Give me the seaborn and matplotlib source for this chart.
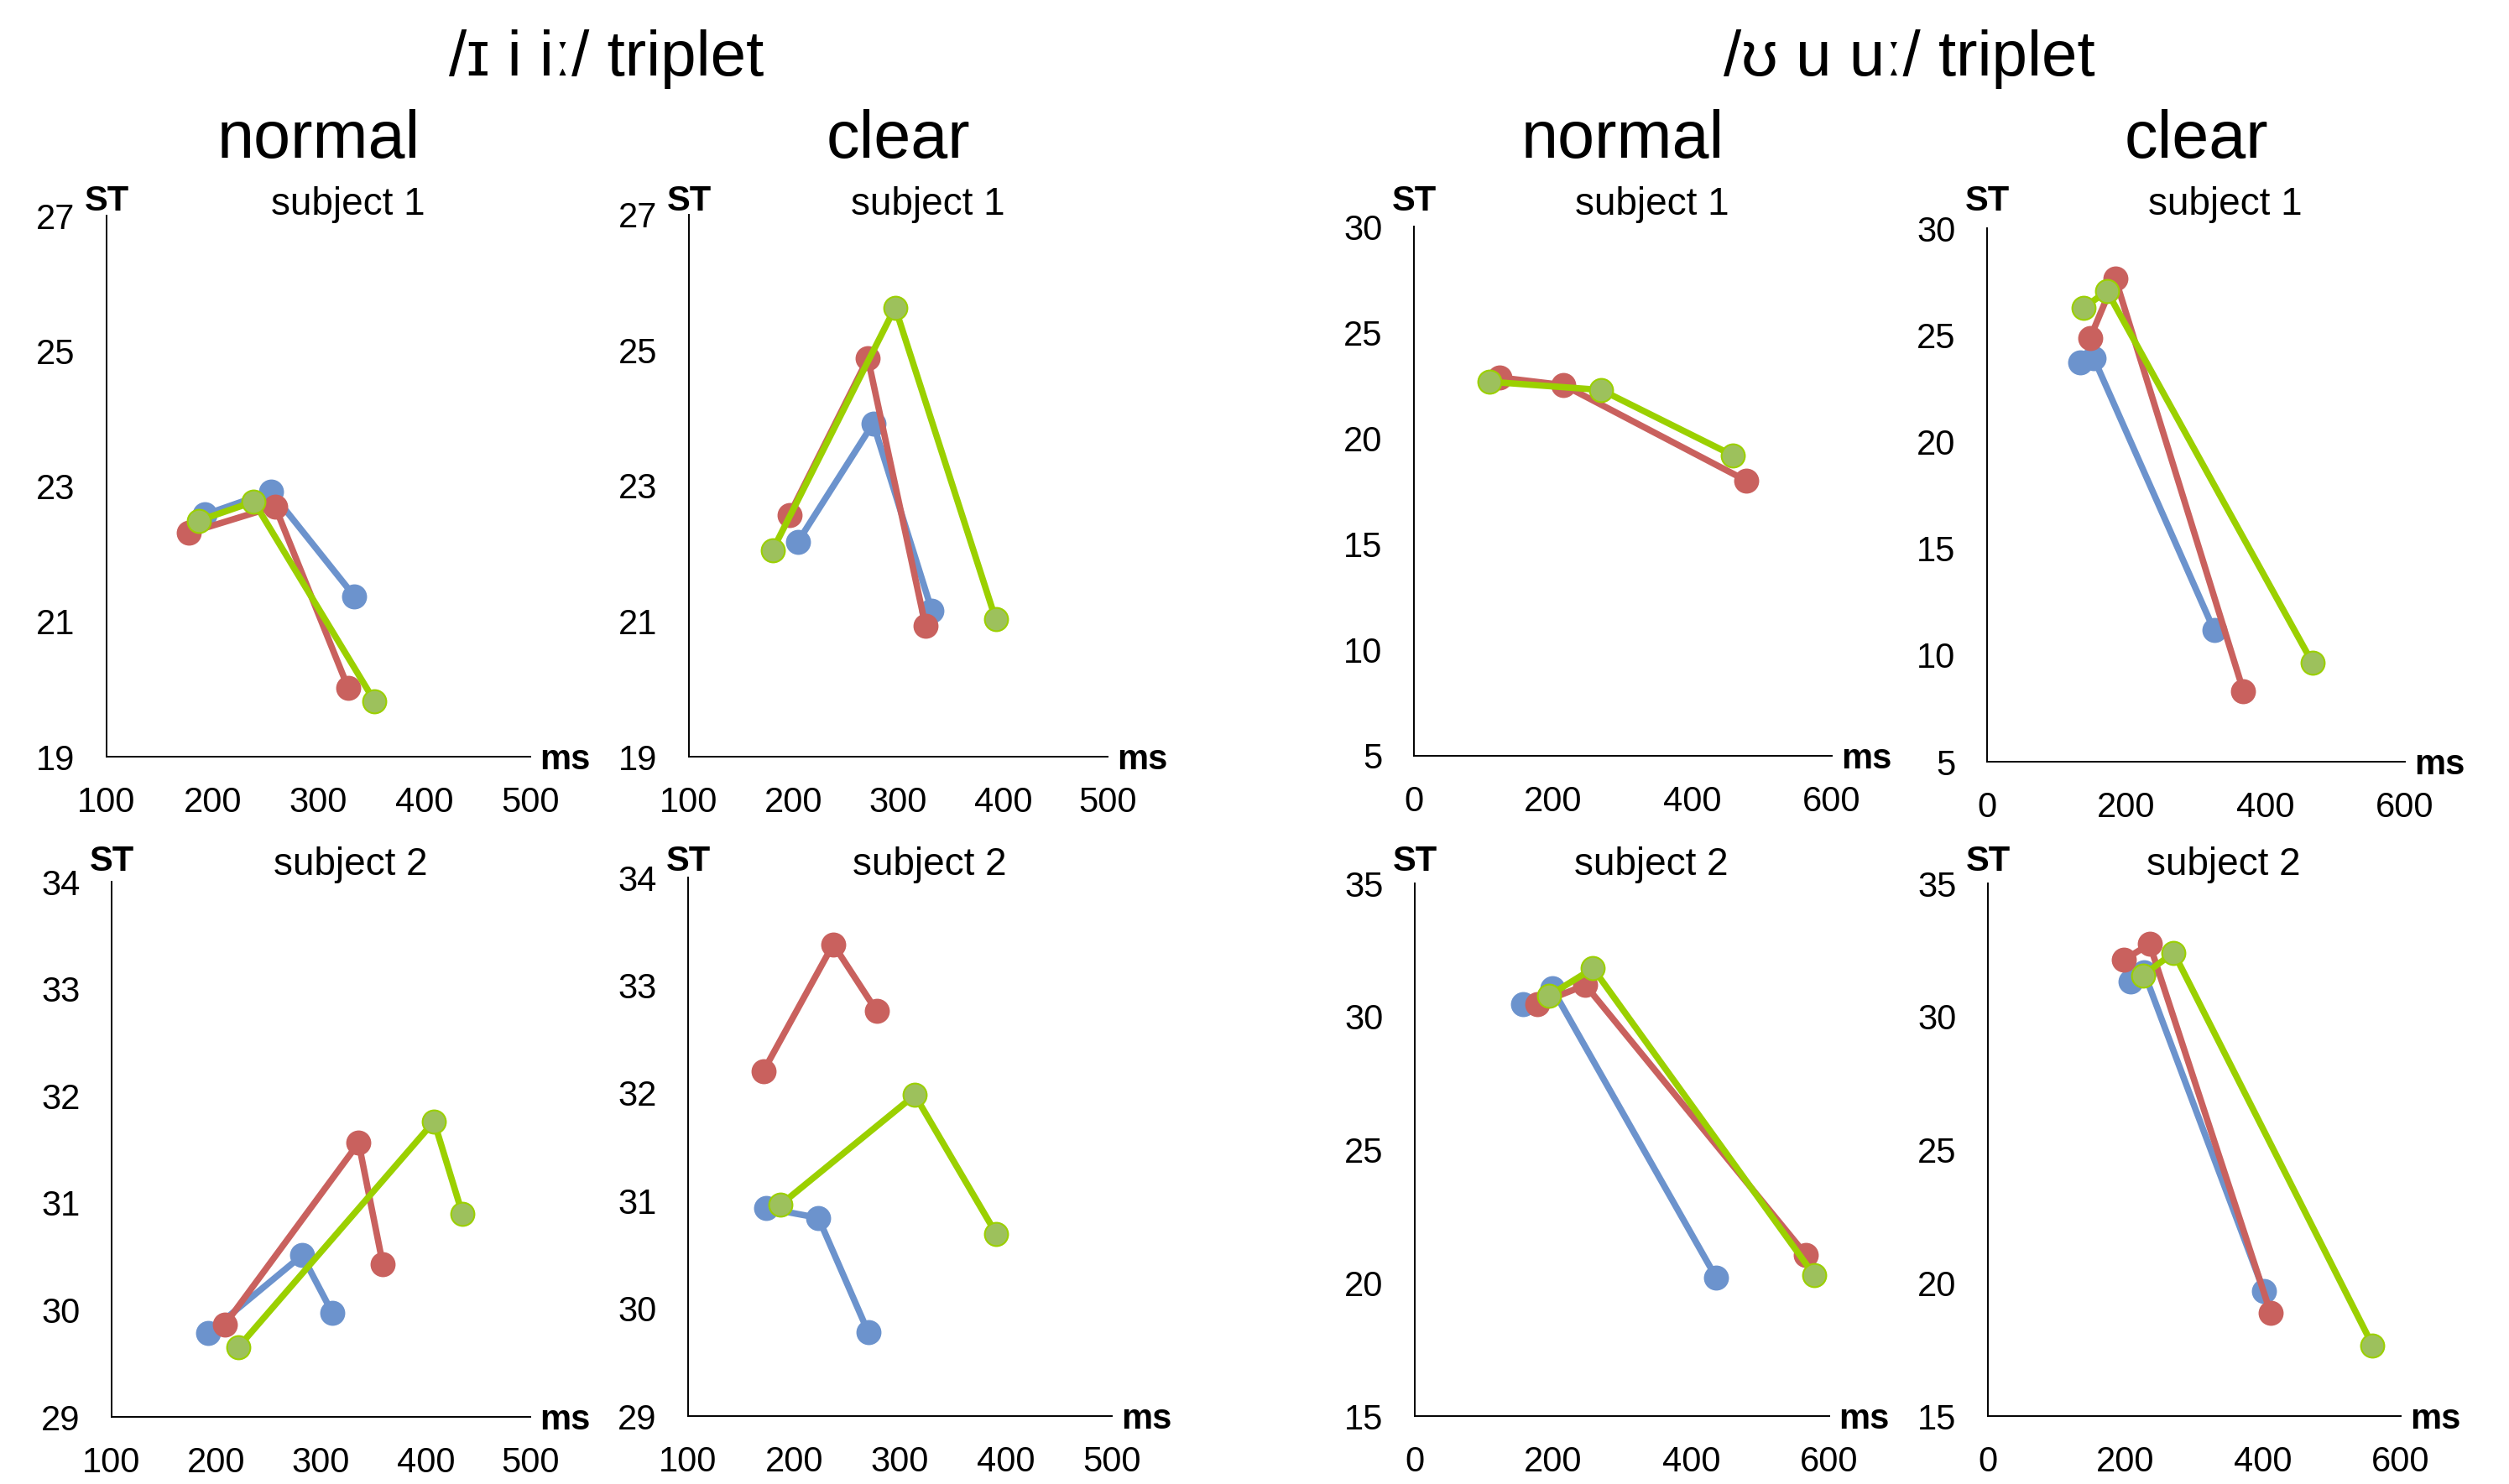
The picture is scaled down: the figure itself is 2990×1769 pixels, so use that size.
import numpy as np
import pandas as pd
import matplotlib
matplotlib.use('Agg')
import matplotlib.pyplot as plt
import seaborn as sns

# durations (ms) and pitch (ST); rows: blue, red, green (None = series not shown)
i_norm_s1_ms = [[193, 255, 334], [178, 259, 328], [187, 239, 353]]
i_norm_s1_st = [[22.58, 22.92, 21.37], [22.31, 22.70, 20.02], [22.49, 22.77, 19.82]]
i_clear_s1_ms = [[204, 276, 332], [196, 271, 326], [180, 297, 393]]
i_clear_s1_st = [[22.17, 23.92, 21.16], [22.57, 24.88, 20.93], [22.05, 25.63, 21.03]]
u_norm_s1_ms = [None, [123, 215, 477], [108, 269, 458]]
u_norm_s1_st = [None, [22.87, 22.51, 18.0], [22.67, 22.28, 19.19]]
u_clear_s1_ms = [[134, 153, 326], [148, 184, 368], [139, 172, 467]]
u_clear_s1_st = [[23.72, 23.92, 11.16], [24.86, 27.66, 8.32], [26.27, 27.06, 9.65]]

i_norm_s2_ms = [[192, 282, 311], [208, 336, 359], [221, 408, 435]]
i_norm_s2_st = [[29.78, 30.51, 29.97], [29.86, 31.56, 30.43], [29.65, 31.76, 30.90]]
i_clear_s2_ms = [[174, 223, 270], [171, 237, 278], [187, 314, 391]]
i_clear_s2_st = [[30.93, 30.84, 29.78], [32.20, 33.38, 32.76], [30.96, 31.98, 30.69]]
u_norm_s2_ms = [[157, 199, 436], [177, 247, 566], [194, 258, 578]]
u_norm_s2_st = [[30.46, 31.05, 20.21], [30.46, 31.18, 21.06], [30.78, 31.81, 20.29]]
u_clear_s2_ms = [[207, 227, 401], [198, 235, 411], [225, 270, 559]]
u_clear_s2_st = [[31.33, 31.65, 19.70], [32.13, 32.72, 18.86], [31.54, 32.40, 17.66]]

i_xticks = [100, 200, 300, 400, 500]
u_xticks = [0, 200, 400, 600]
i_s1_yticks = [19, 21, 23, 25, 27]
i_s2_yticks = [29, 30, 31, 32, 33, 34]
u_s1_yticks = [5, 10, 15, 20, 25, 30]
u_s2_yticks = [15, 20, 25, 30, 35]

series_names = ['blue', 'red', 'green']
line_colors = ['#6C93CD', '#C9615E', '#9BD000']
face_colors = ['#6C93CD', '#C9615E', '#9DC15C']

sns.set_style('white')
plt.rcParams['font.family'] = ['Liberation Sans', 'DejaVu Sans']
plt.rcParams['text.color'] = 'black'
plt.rcParams['axes.labelcolor'] = 'black'

W, H = 2990, 1769
fig = plt.figure(figsize=(W / 100, H / 100), dpi=100)

# panel boxes in pixels: left, right, top, bottom
panels = [
    ((127, 632, 257, 902), i_norm_s1_ms, i_norm_s1_st, i_xticks, i_s1_yticks, 'subject 1'),
    ((821, 1320, 256, 902), i_clear_s1_ms, i_clear_s1_st, i_xticks, i_s1_yticks, 'subject 1'),
    ((1685, 2183, 270, 901), u_norm_s1_ms, u_norm_s1_st, u_xticks, u_s1_yticks, 'subject 1'),
    ((2368, 2866, 272, 908), u_clear_s1_ms, u_clear_s1_st, u_xticks, u_s1_yticks, 'subject 1'),
    ((133, 632, 1051, 1689), i_norm_s2_ms, i_norm_s2_st, i_xticks, i_s2_yticks, 'subject 2'),
    ((820, 1325, 1046, 1688), i_clear_s2_ms, i_clear_s2_st, i_xticks, i_s2_yticks, 'subject 2'),
    ((1686, 2180, 1053, 1688), u_norm_s2_ms, u_norm_s2_st, u_xticks, u_s2_yticks, 'subject 2'),
    ((2369, 2861, 1053, 1688), u_clear_s2_ms, u_clear_s2_st, u_xticks, u_s2_yticks, 'subject 2'),
]
row_base = [251, 1038]

for k, (box, ms, st, xt, yt, subj) in enumerate(panels):
    l, r, t, b = box
    ax = fig.add_axes([l / W, 1 - b / H, (r - l) / W, (b - t) / H])
    for i in range(3):
        if ms[i] is None:
            continue
        df = pd.DataFrame({'ms': ms[i], 'st': st[i]})
        sns.lineplot(data=df, x='ms', y='st', ax=ax, sort=False, color=line_colors[i],
                     linewidth=5.5, marker='o', markersize=20,
                     markerfacecolor=face_colors[i], markeredgecolor=line_colors[i],
                     markeredgewidth=1.5, zorder=3 + i)
    ax.set_xlim(xt[0], xt[-1])
    ax.set_ylim(yt[0], yt[-1])
    ax.set_xticks(xt)
    ax.set_yticks(yt)
    ax.tick_params(axis='both', length=0, labelsize=30, colors='black')
    ax.tick_params(axis='x', pad=25)
    ax.tick_params(axis='y', pad=27)
    ax.set_xlabel('')
    ax.set_ylabel('')
    for side in ['top', 'right']:
        ax.spines[side].set_visible(False)
    for side in ['left', 'bottom']:
        ax.spines[side].set_color('black')
        ax.spines[side].set_linewidth(1.4)
    ax.patch.set_alpha(0)

    rb = row_base[k // 4]
    fig.text(l / W, 1 - rb / H, 'ST', fontsize=30, fontweight='bold', ha='center', va='baseline')
    fig.text((l + 0.57 * (r - l)) / W, 1 - (rb + 5) / H, subj, fontsize=33, ha='center', va='baseline')
    ax.annotate('ms', xy=(1, 0), xycoords='axes fraction', xytext=(8, -11),
                textcoords='offset points', ha='left', va='baseline', fontsize=30, fontweight='bold')

    if k < 4:
        fig.text((l + r) / 2 / W, 1 - 188 / H, ['normal', 'clear'][k % 2], fontsize=57,
                 ha='center', va='baseline')

fig.text(723 / W, 1 - 90 / H, '/ɪ i iː/ triplet', fontsize=55, ha='center', va='baseline')
fig.text(2275 / W, 1 - 90 / H, '/ʊ u uː/ triplet', fontsize=55, ha='center', va='baseline')

fig.savefig('out.png', dpi=100, facecolor='white')
